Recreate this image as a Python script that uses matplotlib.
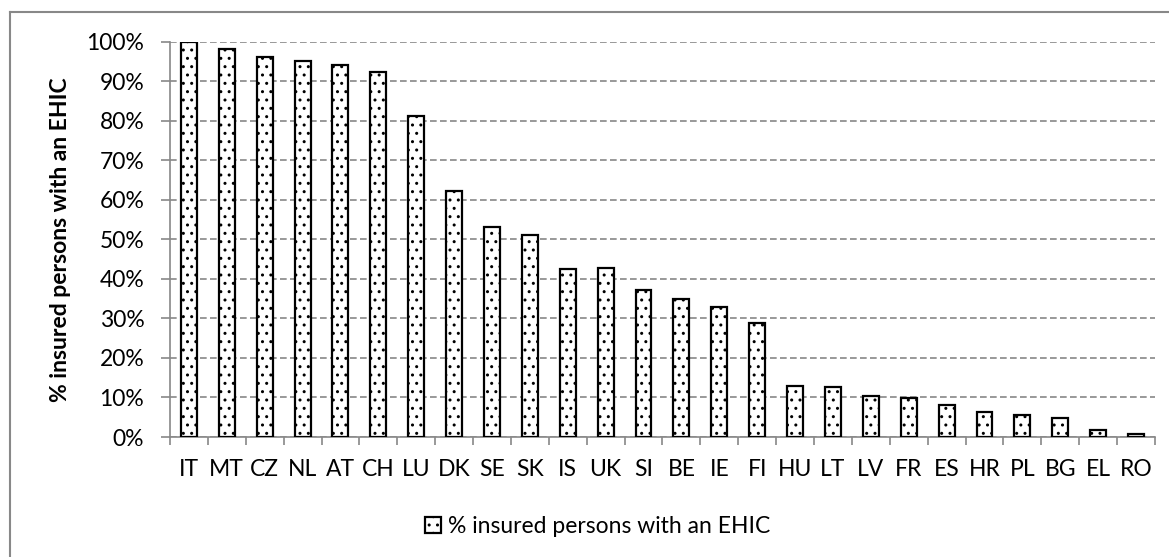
import numpy as np
import matplotlib.pyplot as plt
import matplotlib.ticker as mticker
from matplotlib.lines import Line2D

plt.rcParams['font.family'] = ['Lato', 'DejaVu Sans']
plt.rcParams['hatch.linewidth'] = 1.0

countries = ["IT", "MT", "CZ", "NL", "AT", "CH", "LU", "DK", "SE", "SK", "IS", "UK", "SI",
             "BE", "IE", "FI", "HU", "LT", "LV", "FR", "ES", "HR", "PL", "BG", "EL", "RO"]
share_ehic = [100, 98, 96, 95.2, 94, 92.2, 81.2, 62.3, 53, 51.2, 42.5, 42.8, 37.2,
              34.8, 33, 28.8, 13, 12.7, 10.3, 9.8, 8, 6.4, 5.5, 4.8, 1.7, 0.8]
series_name = "% insured persons with an EHIC"

FS = 16.5

fig = plt.figure(figsize=(11.69, 5.57), dpi=100)
ax = fig.add_axes([0.1454, 0.2154, 0.8426, 0.7100])

x = np.arange(len(countries))
ax.bar(x, share_ehic, width=0.42, color="white", edgecolor="black", linewidth=1.6,
       hatch="..", label=series_name, zorder=3)

ax.set_xlim(-0.5, len(countries) - 0.5)
ax.set_ylim(0, 100)
ax.yaxis.set_major_locator(mticker.MultipleLocator(10))
ax.yaxis.set_major_formatter(mticker.FuncFormatter(lambda v, _: f"{v:.0f}%"))
ax.grid(axis="y", color="#888888", linestyle=(0, (4, 2)), linewidth=1.2, zorder=0)

# category labels at the centres, tick marks on the boundaries
ax.set_xticks(x)
ax.set_xticklabels(countries)
ax.tick_params(axis="x", which="major", length=0, pad=16, labelsize=FS)
ax.set_xticks(np.arange(len(countries) + 1) - 0.5, minor=True)
ax.tick_params(axis="x", which="minor", length=6, color="#888888", width=1.2)
ax.tick_params(axis="y", length=6.5, color="#888888", width=1.2, labelsize=FS, pad=12)

for side in ("top", "right"):
    ax.spines[side].set_visible(False)
for side in ("left", "bottom"):
    ax.spines[side].set_color("#888888")
    ax.spines[side].set_linewidth(1.2)

ax.set_ylabel(series_name, fontsize=FS, fontweight="bold", labelpad=11)

fig.legend(loc="center", bbox_to_anchor=(0.511, 0.054), frameon=False, fontsize=FS,
           handlelength=0.7, handleheight=0.7, handletextpad=0.3)

# chart border (top and left edges)
fig.add_artist(Line2D([10 / 1169, 1.0], [1 - 12 / 557] * 2, color="#888888", lw=1.5))
fig.add_artist(Line2D([10 / 1169] * 2, [0.0, 1 - 12 / 557], color="#888888", lw=1.5))

fig.savefig("out.png", dpi=100)
